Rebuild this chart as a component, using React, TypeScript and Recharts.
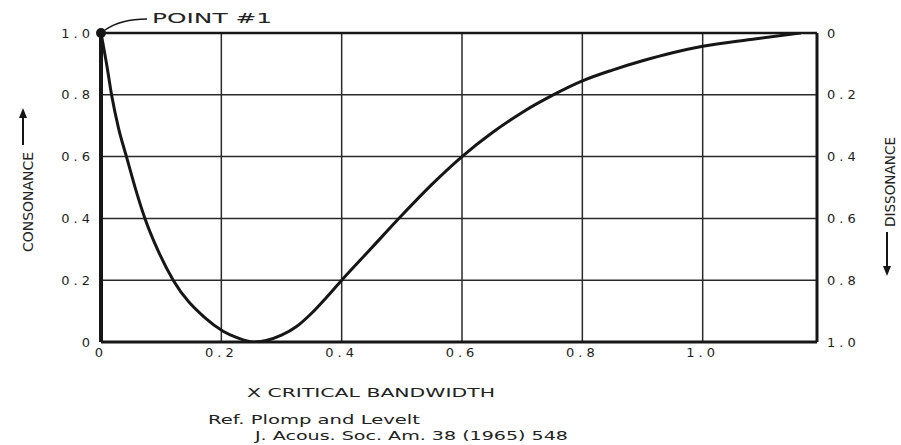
import { LineChart, Line, XAxis, YAxis, CartesianGrid, ReferenceLine, ReferenceDot, Label } from 'recharts';

const bandwidth = [0, 0.0095, 0.018, 0.029, 0.043, 0.057, 0.073, 0.095, 0.12, 0.173, 0.203, 0.225, 0.253, 0.3, 0.325, 0.35, 0.375, 0.4, 0.45, 0.5, 0.55, 0.6, 0.65, 0.7, 0.75, 0.8, 0.85, 0.9, 0.95, 1.0, 1.08, 1.163];
const consonance = [1.0, 0.897, 0.795, 0.693, 0.595, 0.498, 0.4, 0.295, 0.2, 0.078, 0.035, 0.015, 0.0, 0.022, 0.05, 0.093, 0.145, 0.2, 0.305, 0.41, 0.51, 0.6, 0.677, 0.743, 0.798, 0.845, 0.88, 0.91, 0.936, 0.957, 0.979, 1.0];

const xTicks = [0, 0.2, 0.4, 0.6, 0.8, 1.0];
const consonanceTicks = [0, 0.2, 0.4, 0.6, 0.8, 1.0];
const dissonanceTicks = [0, 0.2, 0.4, 0.6, 0.8, 1.0];

const data = bandwidth.map((x, i) => ({ x, y: consonance[i] }));

const fmt = (v: number) => (v === 0 ? '0' : v.toFixed(1));

const ink = '#161616';
const font = 'DejaVu Sans, Liberation Sans, sans-serif';
const tickStyle = { fill: '#1e1e1e', fontSize: 13, fontFamily: font, letterSpacing: 4 };

const BottomText = () => (
    <g fontFamily={font} fill="#222">
        <text x={371} y={397} fontSize={13} textAnchor="middle" textLength={248} lengthAdjust="spacingAndGlyphs">X CRITICAL BANDWIDTH</text>
        <text x={208} y={424} fontSize={13} textLength={212} lengthAdjust="spacingAndGlyphs">Ref.  Plomp and Levelt</text>
        <text x={255} y={440} fontSize={13} textLength={313} lengthAdjust="spacingAndGlyphs">J. Acous. Soc. Am. 38 (1965) 548</text>
    </g>
);

const LeftTitle = () => (
    <g fontFamily={font} fill="#222">
        <text transform="translate(33,202) rotate(-90)" fontSize={14} textAnchor="middle" textLength={100} lengthAdjust="spacingAndGlyphs">CONSONANCE</text>
        <line x1={23} y1={145} x2={23} y2={116} stroke={ink} strokeWidth={2} />
        <polygon points="23,108 19,118 27,118" fill={ink} />
    </g>
);

const RightTitle = () => (
    <g fontFamily={font} fill="#222">
        <text transform="translate(895,182) rotate(-90)" fontSize={14} textAnchor="middle" textLength={90} lengthAdjust="spacingAndGlyphs">DISSONANCE</text>
        <line x1={887} y1={232} x2={887} y2={268} stroke={ink} strokeWidth={2} />
        <polygon points="887,276 883,266 891,266" fill={ink} />
    </g>
);

const PointLabel = ({ viewBox }: any) => {
    const cx = viewBox.x + viewBox.width / 2;
    const cy = viewBox.y + viewBox.height / 2;
    return (
        <g>
            <path d={`M ${cx + 4} ${cy - 3} Q ${cx + 20} ${cy - 14} ${cx + 46} ${cy - 14}`} stroke={ink} strokeWidth={1.5} fill="none" />
            <text x={cx + 51} y={cy - 10} fontSize={14} fontFamily={font} fill="#222" textLength={120} lengthAdjust="spacingAndGlyphs">POINT #1</text>
        </g>
    );
};

export default function App() {
    return (
        <div style={{ position: 'absolute', left: 0, top: 0, width: 901, height: 445, background: '#fff' }}>
            <LineChart width={901} height={445} data={data} margin={{ top: 33, right: 0, bottom: 73, left: 0 }}>
                <CartesianGrid stroke="#2a2a2a" strokeWidth={1.5} />
                <XAxis
                    type="number"
                    dataKey="x"
                    domain={[0, 1.19]}
                    ticks={xTicks}
                    tickFormatter={fmt}
                    allowDataOverflow
                    axisLine={{ stroke: ink, strokeWidth: 3 }}
                    tickLine={false}
                    tickSize={0}
                    tickMargin={6}
                    height={30}
                    tick={tickStyle}
                >
                    <Label content={<BottomText />} />
                </XAxis>
                <YAxis
                    yAxisId={0}
                    domain={[0, 1]}
                    ticks={consonanceTicks}
                    tickFormatter={fmt}
                    allowDataOverflow
                    width={101}
                    axisLine={{ stroke: ink, strokeWidth: 4 }}
                    tickLine={false}
                    tickSize={0}
                    tickMargin={7}
                    tick={tickStyle}
                >
                    <Label content={<LeftTitle />} />
                </YAxis>
                <YAxis
                    yAxisId="right"
                    orientation="right"
                    type="number"
                    domain={[0, 1]}
                    reversed
                    ticks={dissonanceTicks}
                    tickFormatter={fmt}
                    allowDataOverflow
                    width={84}
                    axisLine={{ stroke: ink, strokeWidth: 3 }}
                    tickLine={false}
                    tickSize={0}
                    tickMargin={10}
                    tick={{ ...tickStyle, textAnchor: 'start' }}
                >
                    <Label content={<RightTitle />} />
                </YAxis>
                <ReferenceLine y={1} stroke={ink} strokeWidth={2.5} />
                <Line
                    type="monotone"
                    dataKey="y"
                    stroke={ink}
                    strokeWidth={3}
                    dot={false}
                    isAnimationActive={false}
                />
                <ReferenceDot x={0} y={1} r={5} fill={ink} stroke="none" ifOverflow="visible" label={<PointLabel />} />
            </LineChart>
        </div>
    );
}
